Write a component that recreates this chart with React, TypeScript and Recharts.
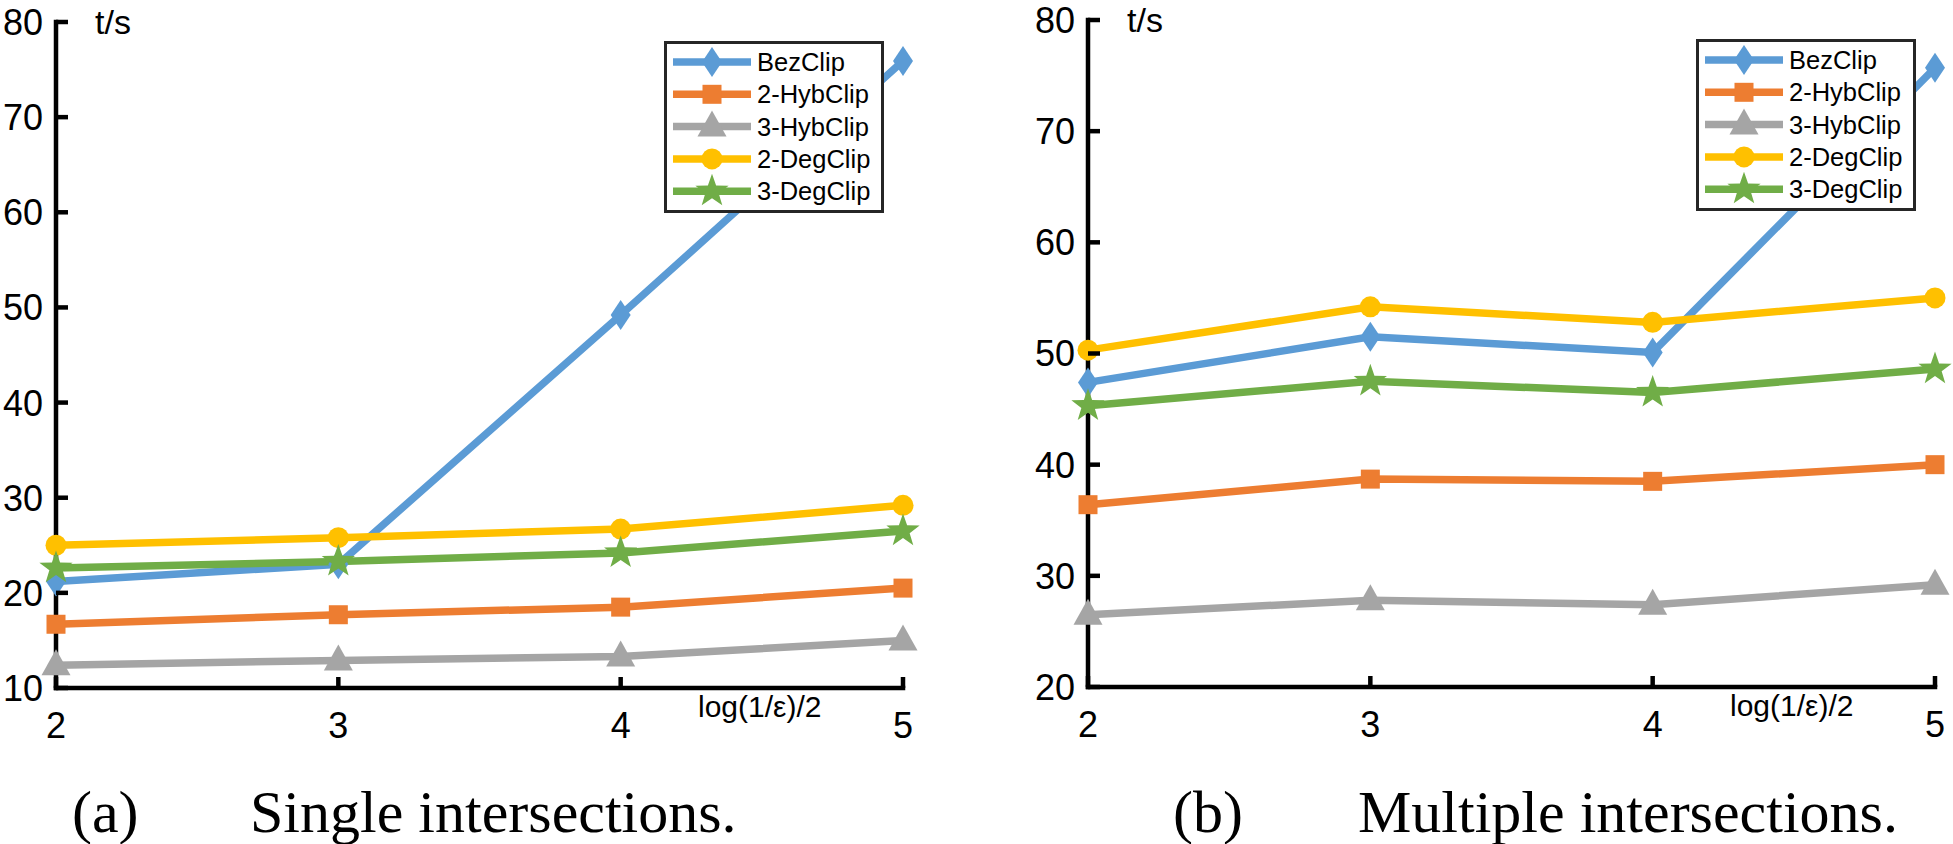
import React from 'react';
import { LineChart, Line, XAxis, YAxis, Legend } from 'recharts';

// ---- data ----
const xValues = [2, 3, 4, 5];
const seriesNames = ['BezClip', '2-HybClip', '3-HybClip', '2-DegClip', '3-DegClip'];
const seriesKeys = ['bez', 'hyb2', 'hyb3', 'deg2', 'deg3'];
const seriesColors = ['#5B9BD5', '#ED7D31', '#A5A5A5', '#FFC000', '#70AD47'];
const seriesMarkers = ['diamond', 'square', 'triangle', 'circle', 'star'];

// (a) Single intersections
const singleBez = [21.2, 23.0, 49.2, 75.9];
const singleHyb2 = [16.7, 17.7, 18.5, 20.5];
const singleHyb3 = [12.4, 12.9, 13.3, 15.0];
const singleDeg2 = [25.0, 25.8, 26.7, 29.2];
const singleDeg3 = [22.6, 23.3, 24.2, 26.5];
const singleYTicks = [10, 20, 30, 40, 50, 60, 70, 80];

// (b) Multiple intersections
const multiBez = [47.4, 51.5, 50.1, 75.7];
const multiHyb2 = [36.4, 38.7, 38.5, 40.0];
const multiHyb3 = [26.5, 27.8, 27.4, 29.2];
const multiDeg2 = [50.3, 54.2, 52.8, 55.0];
const multiDeg3 = [45.3, 47.5, 46.5, 48.6];
const multiYTicks = [20, 30, 40, 50, 60, 70, 80];

const yLabel = 't/s';
const xLabel = 'log(1/ε)/2';
const captions = [
  { tag: '(a)', text: 'Single intersections.' },
  { tag: '(b)', text: 'Multiple intersections.' },
];

const buildRows = (series: number[][]) =>
  xValues.map((x, i) => {
    const row: any = { x };
    seriesKeys.forEach((k, s) => {
      row[k] = series[s][i];
    });
    return row;
  });

const singleRows = buildRows([singleBez, singleHyb2, singleHyb3, singleDeg2, singleDeg3]);
const multiRows = buildRows([multiBez, multiHyb2, multiHyb3, multiDeg2, multiDeg3]);

const SANS = '"Liberation Sans", Arial, Helvetica, sans-serif';
const SERIF = '"Liberation Serif", "Times New Roman", serif';
const LINE_W = 7.5;

function Marker({ shape, color, cx, cy }: { shape: string; color: string; cx: number; cy: number }) {
  if (shape === 'diamond') {
    return <polygon points={`${cx},${cy - 15} ${cx + 10},${cy} ${cx},${cy + 15} ${cx - 10},${cy}`} fill={color} />;
  }
  if (shape === 'square') {
    return <rect x={cx - 9.5} y={cy - 9.5} width={19} height={19} fill={color} />;
  }
  if (shape === 'triangle') {
    return <polygon points={`${cx},${cy - 16} ${cx + 14.5},${cy + 10} ${cx - 14.5},${cy + 10}`} fill={color} />;
  }
  if (shape === 'circle') {
    return <circle cx={cx} cy={cy} r={10.5} fill={color} />;
  }
  // star
  const pts: string[] = [];
  const R = 17.5;
  const r = 7;
  for (let i = 0; i < 10; i++) {
    const a = ((-90 + i * 36) * Math.PI) / 180;
    const rad = i % 2 === 0 ? R : r;
    pts.push(`${cx + rad * Math.cos(a)},${cy + rad * Math.sin(a)}`);
  }
  return <polygon points={pts.join(' ')} fill={color} />;
}

const makeDot = (shape: string, color: string) => (props: any) => {
  const { cx, cy, index } = props;
  if (cx == null || cy == null) return <g key={`n-${index}`} />;
  return (
    <g key={`d-${shape}-${index}`}>
      <Marker shape={shape} color={color} cx={cx} cy={cy} />
    </g>
  );
};

const YTick = (props: any) => {
  const { x, y, payload } = props;
  return (
    <g>
      <line x1={x} x2={x + 12} y1={y} y2={y} stroke="#000" strokeWidth={4.5} />
      <text x={x - 13} y={y} dy="0.36em" textAnchor="end" fontFamily={SANS} fontSize={36} fill="#000">
        {payload.value}
      </text>
    </g>
  );
};

const XTick = (props: any) => {
  const { x, y, payload } = props;
  return (
    <g>
      <line x1={x} x2={x} y1={y} y2={y - 11} stroke="#000" strokeWidth={4.5} />
      <text x={x} y={y + 50} textAnchor="middle" fontFamily={SANS} fontSize={36} fill="#000">
        {payload.value}
      </text>
    </g>
  );
};

const LegendBox = () => (
  <svg width={220} height={172} style={{ display: 'block' }}>
    <rect x={1.5} y={1.5} width={217} height={169} fill="#fff" stroke="#262626" strokeWidth={3} />
    {seriesNames.map((name, i) => {
      const cy = 21 + i * 32.3;
      return (
        <g key={name}>
          <line x1={9} x2={87} y1={cy} y2={cy} stroke={seriesColors[i]} strokeWidth={LINE_W} />
          <Marker shape={seriesMarkers[i]} color={seriesColors[i]} cx={48} cy={cy} />
          <text x={93} y={cy} dy="0.36em" fontFamily={SANS} fontSize={25.5} fill="#000">
            {name}
          </text>
        </g>
      );
    })}
  </svg>
);

function Panel(props: {
  rows: any[];
  width: number;
  height: number;
  margin: { top: number; right: number; bottom: number; left: number };
  yDomain: [number, number];
  yTicks: number[];
  legendLeft: number;
  legendTop: number;
}) {
  const { rows, width, height, margin, yDomain, yTicks, legendLeft, legendTop } = props;
  const axisLine = { stroke: '#000', strokeWidth: 4.5, strokeLinecap: 'square' as const };
  return (
    <LineChart width={width} height={height} data={rows} margin={margin}>
      <XAxis
        dataKey="x"
        type="number"
        domain={[2, 5]}
        ticks={xValues}
        interval={0}
        height={1}
        tickLine={false}
        tickSize={0}
        tickMargin={0}
        axisLine={axisLine}
        tick={XTick}
        label={(p: any) => {
          const vb = p.viewBox || {};
          return (
            <text x={(vb.x ?? 0) + 642} y={(vb.y ?? 0) + 29} fontFamily={SANS} fontSize={30} fill="#000">
              {xLabel}
            </text>
          );
        }}
      />
      <YAxis
        type="number"
        domain={yDomain}
        ticks={yTicks}
        interval={0}
        width={1}
        tickLine={false}
        tickSize={0}
        tickMargin={0}
        axisLine={axisLine}
        tick={YTick}
        label={(p: any) => {
          const vb = p.viewBox || {};
          return (
            <text x={(vb.x ?? 0) + (vb.width ?? 0) + 39} y={(vb.y ?? 0) + 12} fontFamily={SANS} fontSize={34} fill="#000">
              {yLabel}
            </text>
          );
        }}
      />
      <Legend
        layout="horizontal"
        align="center"
        verticalAlign="middle"
        content={LegendBox}
        wrapperStyle={{ position: 'absolute', left: legendLeft, top: legendTop, width: 220, height: 172, margin: 0, padding: 0 }}
      />
      {seriesKeys.map((k, i) => (
        <Line
          key={k}
          dataKey={k}
          name={seriesNames[i]}
          type="linear"
          stroke={seriesColors[i]}
          strokeWidth={LINE_W}
          dot={makeDot(seriesMarkers[i], seriesColors[i])}
          activeDot={false}
          isAnimationActive={false}
        />
      ))}
    </LineChart>
  );
}

export default function App() {
  return (
    <div style={{ position: 'absolute', left: 0, top: 0, width: 1953, height: 844, background: '#fff', overflow: 'hidden' }}>
      <div style={{ position: 'absolute', left: 0, top: 0 }}>
        <Panel
          rows={singleRows}
          width={960}
          height={760}
          margin={{ top: 22, right: 57, bottom: 71, left: 55 }}
          yDomain={[10, 80]}
          yTicks={singleYTicks}
          legendLeft={664}
          legendTop={41}
        />
      </div>
      <div style={{ position: 'absolute', left: 1000, top: 0 }}>
        <Panel
          rows={multiRows}
          width={953}
          height={760}
          margin={{ top: 20, right: 18, bottom: 72, left: 87 }}
          yDomain={[20, 80]}
          yTicks={multiYTicks}
          legendLeft={696}
          legendTop={39}
        />
      </div>
      <svg style={{ position: 'absolute', left: 0, top: 760 }} width={1953} height={84}>
        <text x={72} y={72} fontFamily={SERIF} fontSize={60} fill="#000">{captions[0].tag}</text>
        <text x={250} y={72} fontFamily={SERIF} fontSize={60} fill="#000">{captions[0].text}</text>
        <text x={1173} y={72} fontFamily={SERIF} fontSize={60} fill="#000">{captions[1].tag}</text>
        <text x={1358} y={72} fontFamily={SERIF} fontSize={60} fill="#000">{captions[1].text}</text>
      </svg>
    </div>
  );
}
